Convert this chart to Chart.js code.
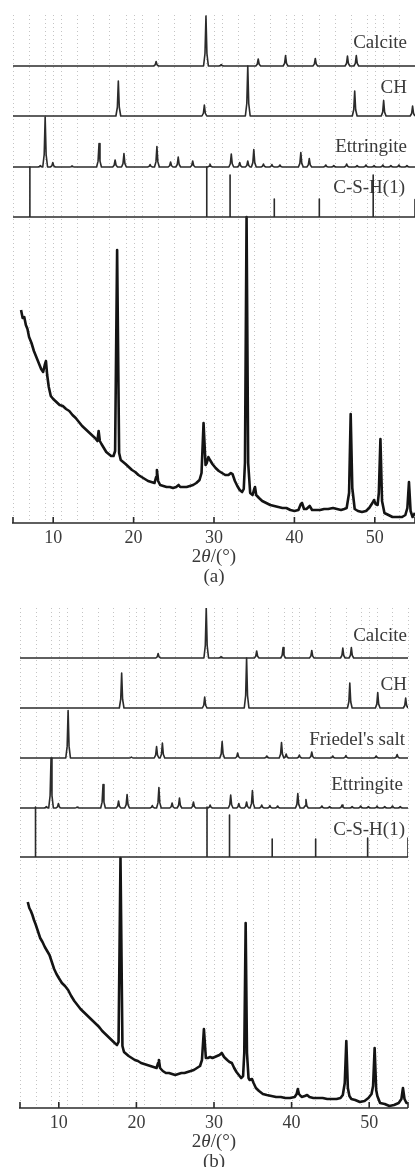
<!DOCTYPE html>
<html>
<head>
<meta charset="utf-8">
<script src="https://cdn.jsdelivr.net/npm/chart.js@4.4.1/dist/chart.umd.min.js"></script>
<style>
  html, body { margin: 0; padding: 0; background: #fff; }
  body { width: 415px; height: 1167px; position: relative; overflow: hidden; }
  canvas { position: absolute; left: 0; }
  #grafico-a { top: 0; }
  #grafico-b { top: 590px; }
</style>
</head>
<body>
<canvas id="grafico-a" width="415" height="590"></canvas>
<canvas id="grafico-b" width="415" height="577"></canvas>
<script>
const xTicks = [10, 20, 30, 40, 50];

// picos de referência: [2θ, intensidade relativa 0-100]
const calcitePeaks = [[22.8, 9], [29.0, 100], [30.9, 3], [35.5, 14], [38.9, 21], [42.6, 15], [46.6, 20], [47.7, 21]];
const chPeaks = [[18.1, 70], [28.8, 22], [34.2, 100], [47.5, 50], [51.1, 31], [54.7, 20]];
const friedelPeaks = [[11.2, 95], [19.35, 2], [22.6, 23], [23.35, 30], [31.05, 33], [33.05, 10], [36.8, 4],
  [38.7, 31], [39.3, 8], [41.0, 6], [42.6, 12], [45.3, 4], [47.0, 5], [50.9, 4], [53.6, 7]];
const ettringitePeaks = [[8.4, 3], [9.0, 100], [9.95, 9], [12.35, 2], [15.7, 47], [17.7, 14], [18.8, 27],
  [22.05, 5], [22.9, 41], [24.6, 10], [25.55, 20], [27.35, 12], [29.5, 6], [32.15, 26], [33.2, 9],
  [34.2, 12], [34.95, 35], [36.15, 6], [37.2, 5], [38.2, 4], [40.8, 29], [41.85, 17], [43.9, 4],
  [44.9, 3], [46.5, 6], [47.8, 3], [48.9, 4], [49.9, 3], [51.0, 4], [52.0, 3], [53.0, 4], [54.0, 3]];
const cshSticksA = [[7.1, 100], [29.1, 100], [32.0, 84], [37.5, 36], [43.1, 36], [49.8, 84], [55.0, 35]];
const cshSticksB = [[7.0, 100], [29.1, 100], [32.0, 84], [37.5, 36], [43.1, 36], [49.8, 38], [55.0, 38]];

// difratogramas medidos: [2θ, intensidade]
const medidoA = [
  [6.0, 213], [6.2, 205], [6.4, 206], [6.6, 198], [6.8, 194], [7.0, 186], [7.3, 180], [7.6, 172], [7.9, 166],
  [8.2, 160], [8.5, 154], [8.75, 151], [8.95, 158], [9.1, 162], [9.25, 148], [9.45, 136], [9.7, 127],
  [10.0, 124], [10.4, 121], [10.8, 118], [11.2, 117], [11.6, 114], [12.0, 112], [12.4, 108], [12.8, 105],
  [13.2, 101], [13.6, 97], [14.0, 94], [14.4, 91], [14.8, 88], [15.2, 85], [15.5, 82], [15.65, 92],
  [15.8, 82], [16.0, 79], [16.3, 75], [16.6, 71], [16.9, 69], [17.2, 67], [17.5, 67], [17.7, 72],
  [17.95, 273], [18.2, 70], [18.4, 63], [18.7, 61], [19.0, 59], [19.4, 56],
  [19.8, 53], [20.2, 51], [20.6, 48], [21.0, 46], [21.4, 44], [21.8, 42], [22.2, 41], [22.6, 40],
  [22.8, 46], [22.9, 53], [23.05, 42], [23.3, 38], [23.7, 37], [24.1, 36], [24.5, 36], [24.9, 35],
  [25.3, 36], [25.6, 38], [25.8, 36], [26.2, 36], [26.6, 36], [27.0, 37], [27.4, 38], [27.8, 40],
  [28.2, 43], [28.45, 50], [28.7, 100], [28.95, 58], [29.1, 60], [29.3, 66],
  [29.5, 63], [29.8, 59], [30.2, 55], [30.6, 52], [31.0, 50], [31.4, 48], [31.8, 48], [32.1, 50],
  [32.3, 49], [32.6, 42], [32.9, 37], [33.2, 33], [33.5, 31], [33.7, 34], [33.85, 60],
  [34.05, 306], [34.25, 60], [34.5, 30], [34.8, 28], [35.0, 34], [35.1, 36], [35.25, 28],
  [35.6, 25], [36.0, 22], [36.5, 20], [37.0, 18], [37.5, 17], [38.0, 16], [38.5, 15], [39.0, 15],
  [39.5, 13], [40.0, 12], [40.5, 13], [40.8, 19], [40.95, 20], [41.2, 14], [41.5, 14], [41.9, 17],
  [42.2, 13], [42.7, 13], [43.2, 13], [43.7, 14], [44.2, 14], [44.8, 15], [45.3, 14], [45.8, 13],
  [46.2, 14], [46.5, 15], [46.8, 30], [47.0, 109], [47.2, 35], [47.5, 14],
  [47.9, 12], [48.4, 11], [48.9, 12], [49.3, 15], [49.7, 20], [49.9, 23], [50.1, 19], [50.35, 18],
  [50.5, 30], [50.7, 84], [50.9, 22], [51.2, 10], [51.7, 8], [52.2, 6],
  [52.8, 6], [53.4, 6], [53.8, 8], [54.05, 15], [54.25, 41], [54.45, 12],
  [54.7, 6], [55.0, 10]
];
const medidoB = [
  [6.0, 206], [6.2, 200], [6.4, 197], [6.6, 193], [6.8, 188], [7.0, 184], [7.3, 177], [7.6, 170], [7.9, 166],
  [8.2, 161], [8.5, 157], [8.8, 153], [9.1, 146], [9.4, 139], [9.7, 134], [10.0, 130], [10.4, 125],
  [10.8, 122], [11.2, 118], [11.6, 112], [12.0, 107], [12.4, 103], [12.8, 99], [13.2, 96], [13.6, 93],
  [14.0, 90], [14.4, 87], [14.8, 84], [15.2, 81], [15.6, 77], [16.0, 74], [16.4, 71], [16.8, 68],
  [17.2, 65], [17.5, 63], [17.7, 66], [17.95, 250], [18.2, 62], [18.4, 56],
  [18.7, 54], [19.0, 52], [19.4, 50], [19.8, 48], [20.2, 47], [20.6, 45], [21.0, 44], [21.4, 43],
  [21.8, 42], [22.2, 41], [22.6, 40], [22.8, 45], [22.9, 48], [23.05, 40], [23.4, 37], [23.8, 35],
  [24.2, 35], [24.6, 34], [25.0, 33], [25.4, 34], [25.8, 35], [26.2, 35], [26.6, 36], [27.0, 37],
  [27.4, 38], [27.8, 40], [28.2, 42], [28.45, 48], [28.7, 79], [28.95, 50],
  [29.2, 50], [29.5, 51], [29.8, 50], [30.1, 51], [30.4, 52], [30.7, 53], [31.0, 55], [31.3, 51],
  [31.7, 48], [32.0, 46], [32.3, 45], [32.6, 40], [32.9, 36], [33.2, 33], [33.5, 30], [33.75, 32],
  [33.9, 55], [34.08, 185], [34.25, 55], [34.45, 30], [34.6, 28], [34.9, 29], [35.1, 25],
  [35.4, 20], [35.8, 17], [36.3, 14], [36.8, 13], [37.4, 12], [38.0, 11], [38.6, 11], [39.2, 10],
  [39.8, 10], [40.4, 11], [40.65, 14], [40.8, 19], [40.95, 14], [41.3, 11], [41.7, 12], [42.0, 13],
  [42.3, 11], [42.8, 10], [43.4, 10], [44.0, 10], [44.6, 9], [45.2, 9], [45.8, 9], [46.3, 10],
  [46.6, 13], [46.85, 25], [47.05, 67], [47.25, 20], [47.45, 12], [47.7, 9], [48.2, 8],
  [48.8, 6], [49.4, 7], [49.9, 10], [50.3, 14], [50.5, 22], [50.7, 60], [50.9, 18],
  [51.05, 12], [51.4, 5], [52.0, 4], [52.6, 2], [53.2, 3], [53.8, 5], [54.15, 9], [54.35, 20],
  [54.55, 9], [54.8, 5], [55.0, 5]
];

const FONTE = '"Liberation Serif", "DejaVu Serif", serif';
const COR_TEXTO = '#3a3a3a';

function perfilReferencia(picos, base, escala) {
  const pts = [{ x: 5, y: base }];
  picos.slice().sort((a, b) => a[0] - b[0]).forEach(([pos, h]) => {
    const a = h * escala;
    pts.push(
      { x: pos - 0.3, y: base },
      { x: pos - 0.12, y: base + a * 0.25 },
      { x: pos, y: base + a },
      { x: pos + 0.12, y: base + a * 0.25 },
      { x: pos + 0.3, y: base }
    );
  });
  pts.push({ x: 55, y: base });
  return pts;
}

function perfilBarras(barras, base, escala) {
  const pts = [{ x: 5, y: base }];
  barras.forEach(([pos, h]) => {
    pts.push({ x: pos, y: base }, { x: pos, y: base + h * escala }, { x: pos, y: base });
  });
  pts.push({ x: 55, y: base });
  return pts;
}

function linha(dados, largura, cor) {
  return {
    data: dados,
    borderColor: cor,
    borderWidth: largura,
    pointRadius: 0,
    tension: 0,
    fill: false,
    borderJoinStyle: 'round'
  };
}

function desenharTitulo(c, cx, cy) {
  const partes = [
    ['2', `19px ${FONTE}`],
    ['θ', `italic 19px ${FONTE}`],
    ['/(°)', `19px ${FONTE}`]
  ];
  let total = 0;
  partes.forEach(([t, f]) => { c.font = f; total += c.measureText(t).width; });
  let x0 = cx - total / 2;
  c.textAlign = 'left';
  partes.forEach(([t, f]) => {
    c.font = f;
    c.fillText(t, x0, cy);
    x0 += c.measureText(t).width;
  });
}

const eixoPlugin = {
  id: 'eixoXRD',
  beforeDatasetsDraw(chart, args, opts) {
    const { ctx: c, chartArea: { right, top, bottom }, scales: { x, y } } = chart;
    c.save();
    c.strokeStyle = '#c4c4c4';
    c.lineWidth = 1;
    c.setLineDash([1, 3]);
    for (let v = 5; v <= 55; v++) {
      if (v % 2 === 1 || v % 10 === 0) {
        const px = Math.round(x.getPixelForValue(v)) + 0.5;
        c.beginPath();
        c.moveTo(px, top);
        c.lineTo(px, bottom);
        c.stroke();
      }
    }
    c.setLineDash([]);
    c.font = `19px ${FONTE}`;
    c.fillStyle = COR_TEXTO;
    c.textAlign = 'right';
    c.textBaseline = 'middle';
    opts.rotulos.forEach(r => {
      c.fillText(r.texto, right - r.recuo, y.getPixelForValue(r.base) - r.subida);
    });
    c.restore();
  },
  afterDatasetsDraw(chart, args, opts) {
    const { ctx: c, chartArea: { left, right, bottom }, scales: { x } } = chart;
    c.save();
    c.strokeStyle = '#2a2a2a';
    c.lineWidth = 1.6;
    c.beginPath();
    c.moveTo(left - 1, bottom);
    c.lineTo(right, bottom);
    c.stroke();
    [5, ...xTicks, 55].forEach(v => {
      const px = x.getPixelForValue(v);
      c.beginPath();
      c.moveTo(px, bottom);
      c.lineTo(px, bottom - 6);
      c.stroke();
    });
    c.fillStyle = COR_TEXTO;
    c.font = `18px ${FONTE}`;
    c.textAlign = 'center';
    c.textBaseline = 'middle';
    xTicks.forEach(v => c.fillText(String(v), x.getPixelForValue(v), bottom + 15));
    const cx = x.getPixelForValue(30);
    desenharTitulo(c, cx, bottom + 34);
    c.font = `19px ${FONTE}`;
    c.textAlign = 'center';
    c.fillText(opts.letra, cx, bottom + 54);
    c.restore();
  }
};

function criarGrafico(id, datasets, ymax, padding, plugOpts) {
  const ctx = document.getElementById(id).getContext('2d');
  return new Chart(ctx, {
    type: 'line',
    data: { datasets },
    options: {
      responsive: false,
      animation: false,
      events: [],
      layout: { padding },
      plugins: { legend: { display: false }, tooltip: { enabled: false }, eixoXRD: plugOpts },
      scales: {
        x: { type: 'linear', min: 5, max: 55, display: false },
        y: { type: 'linear', min: 0, max: ymax, display: false }
      }
    },
    plugins: [eixoPlugin]
  });
}

const ESC = 0.5;
const COR_REF = '#2b2b2b';
const COR_MED = '#141414';
const pontos = arr => arr.map(([x, y]) => ({ x, y }));

criarGrafico('grafico-a', [
  linha(perfilReferencia(calcitePeaks, 457, ESC), 1.6, COR_REF),
  linha(perfilReferencia(chPeaks, 407, ESC), 1.6, COR_REF),
  linha(perfilReferencia(ettringitePeaks, 356, ESC), 1.6, COR_REF),
  linha(perfilBarras(cshSticksA, 306, ESC), 1.6, COR_REF),
  linha(pontos(medidoA), 2.6, COR_MED)
], 508, { left: 13, right: 0, top: 15, bottom: 67 }, {
  letra: '(a)',
  rotulos: [
    { texto: 'Calcite', base: 457, subida: 23, recuo: 8 },
    { texto: 'CH', base: 407, subida: 28, recuo: 8 },
    { texto: 'Ettringite', base: 356, subida: 20, recuo: 8 },
    { texto: 'C-S-H(1)', base: 306, subida: 29, recuo: 10 }
  ]
});

criarGrafico('grafico-b', [
  linha(perfilReferencia(calcitePeaks, 450, ESC), 1.6, COR_REF),
  linha(perfilReferencia(chPeaks, 400, ESC), 1.6, COR_REF),
  linha(perfilReferencia(friedelPeaks, 350, ESC), 1.6, COR_REF),
  linha(perfilReferencia(ettringitePeaks, 300, ESC), 1.6, COR_REF),
  linha(perfilBarras(cshSticksB, 251, ESC), 1.6, COR_REF),
  linha(pontos(medidoB), 2.6, COR_MED)
], 500, { left: 20, right: 7, top: 18, bottom: 59 }, {
  letra: '(b)',
  rotulos: [
    { texto: 'Calcite', base: 450, subida: 22, recuo: 1 },
    { texto: 'CH', base: 400, subida: 23, recuo: 1 },
    { texto: "Friedel's salt", base: 350, subida: 18, recuo: 3 },
    { texto: 'Ettringite', base: 300, subida: 23, recuo: 5 },
    { texto: 'C-S-H(1)', base: 251, subida: 27, recuo: 3 }
  ]
});
</script>
</body>
</html>
